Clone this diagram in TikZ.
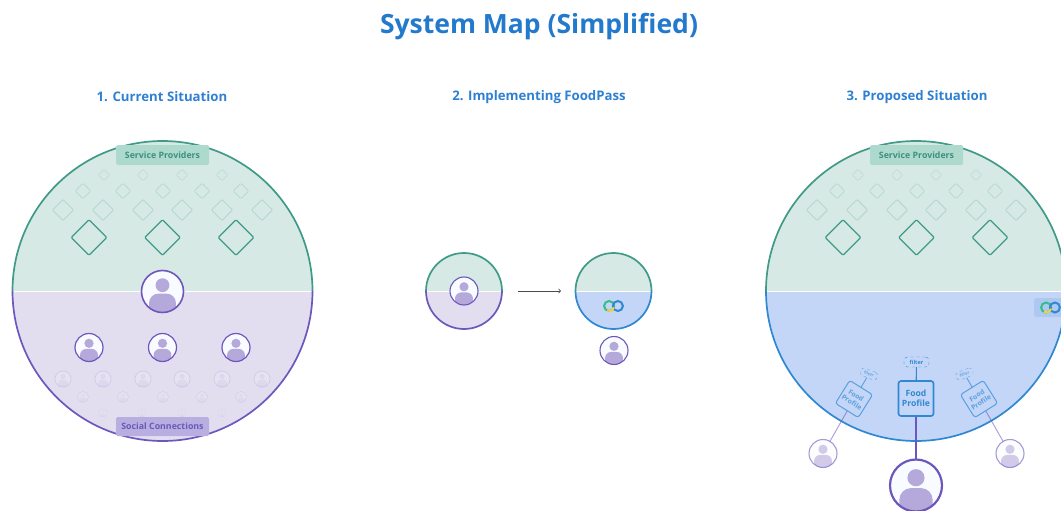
\documentclass[tikz,border=0pt]{standalone}
\usepackage{fontspec}
\setmainfont{Open Sans}
\definecolor{titleblue}{HTML}{2379CC}
\definecolor{headblue}{HTML}{2E80D2}
\definecolor{tealfill}{HTML}{D7E9E5}
\definecolor{tealline}{HTML}{3F9A88}
\definecolor{tealpill}{HTML}{AEDACE}
\definecolor{tealtext}{HTML}{3E8F80}
\definecolor{lilacfill}{HTML}{E2DEF0}
\definecolor{lilacline}{HTML}{6C58BC}
\definecolor{lilacpill}{HTML}{B8AFE0}
\definecolor{lilacbody}{HTML}{B5A9DC}
\definecolor{bluefill}{HTML}{C3D6F7}
\definecolor{blueline}{HTML}{2F88D2}
\definecolor{bluepill}{HTML}{ADC8F1}
\definecolor{iconback}{HTML}{F8FBFF}
\definecolor{ringgreen}{HTML}{35BE86}
\definecolor{ringyellow}{HTML}{F4D33F}
\tikzset{
  head/.style={font=\bfseries\fontsize{13.2}{16}\selectfont,text=headblue},
  person/.style={circle,draw=lilacline,fill=iconback,inner sep=0pt,outer sep=0pt,minimum size=#1*2pt,
    path picture={
      \fill[lilacbody] (path picture bounding box.center) ++(0,-.3*#1) circle (.33*#1);
      \fill[lilacbody,rounded corners=#1*.45pt] (path picture bounding box.center) ++(-.64*#1,1.5*#1) -- ++(0,-1.4*#1) -- ++(1.28*#1,0) -- ++(0,1.4*#1) -- cycle;
    }},
  faded/.style={opacity=#1},
  gem/.style={rectangle,rounded corners=1pt,draw=tealline,rotate=45,inner sep=0pt,minimum size=#1*1pt},
  pill/.style={rectangle,rounded corners=1.5pt,inner sep=0pt,minimum width=93pt,minimum height=20pt,font=\bfseries\fontsize{8.8}{11}\selectfont},
  profile/.style={rectangle,rounded corners=2.5pt,draw=blueline,line width=#1,fill=bluefill,inner sep=0pt,minimum size=35pt,align=center,text=blueline,font=\fontsize{8.6}{10.5}\selectfont\bfseries},
  sieve/.style={rectangle,rounded corners=3.5pt,dashed,draw=blueline,inner sep=0pt,minimum width=25pt,minimum height=10pt,text=blueline,font=\bfseries\fontsize{5.5}{6}\selectfont},
}
\newcommand{\splitdisc}[7]{
  \fill[#4] (#1-#3,#2) arc (180:360:#3) -- cycle;
  \fill[#6] (#1-#3,#2) arc (180:0:#3) -- cycle;
  \draw[white,line width=1pt] (#1-#3,#2) -- (#1+#3,#2);
  \draw[#5,line width=1.7pt] (#1-#3,#2) arc (180:360:#3);
  \draw[#7,line width=1.7pt] (#1-#3,#2) arc (180:0:#3);
}
\newcommand{\gemfield}[1]{
  \foreach \x in {89,162.5,236} \draw (#1+\x,237.5) node[gem=25,line width=1.2pt](big#1x\x) {};
  \foreach \x in {63,103,143,182,222,262} \draw (#1+\x,210) node[gem=15,draw opacity=.22,line width=.9pt](mid#1x\x) {};
  \foreach \x in {83,123,163,202,241} \draw (#1+\x,191) node[gem=11,draw opacity=.2,line width=.8pt](low#1x\x) {};
  \foreach \x in {104,143,182,222} \draw (#1+\x,175) node[gem=8,draw opacity=.16,line width=.7pt](top#1x\x) {};
}
\newcommand{\ringlogo}[3]{
  \draw[ringgreen,line width=2pt] (#1-#3*.88,#2) circle (#3);
  \draw[blueline,line width=2pt] (#1+#3*.88,#2) circle (#3);
  \draw[ringyellow,line width=2pt] (#1-#3*.88,#2) ++(15:#3) arc (15:115:#3);
}
\begin{document}
\begin{tikzpicture}[x=1pt,y=-1pt]
\useasboundingbox (0,0) rectangle (1061,511);
\clip (0,0) rectangle (1061,511);
\draw (539,27) node[font=\bfseries\fontsize{26.5}{30}\selectfont,text=titleblue](title) {System Map (Simplified)};
\draw (162,97) node[head](headone) {1. Current Situation};
\draw (539,97) node[head](headtwo) {2. Implementing FoodPass};
\draw (917,97) node[head](headthree) {3. Proposed Situation};
% current situation
\splitdisc{162.5}{291}{150}{tealfill}{tealline}{lilacfill}{lilacline}
\gemfield{0}
\draw (162.5,155) node[pill,fill=tealpill,text=tealtext](providersone) {Service Providers};
\draw (162.5,426.5) node[pill,minimum height=19pt,fill=lilacpill,text=lilacline](connections) {Social Connections};
\draw (162.5,291.5) node[person=21,line width=1.6pt](userone) {};
\foreach \x in {89,162.5,236} \draw (\x,347.5) node[person=14,line width=1.2pt](friend\x) {};
\foreach \x in {63,103,143,182,222,262} \draw (\x,379) node[person=8,line width=.7pt,faded=.16](frienda\x) {};
\foreach \x in {83,123,163,202,241} \draw (\x,397) node[person=5.5,line width=.5pt,faded=.13](friendb\x) {};
\foreach \x in {103,142,182,222} \draw (\x,413) node[person=4,line width=.4pt,faded=.1](friendc\x) {};
% implementing
\splitdisc{464}{291}{38}{tealfill}{tealline}{lilacfill}{lilacline}
\draw (464,291) node[person=14,line width=1.1pt](usertwo) {};
\splitdisc{613.5}{291}{38}{tealfill}{tealline}{bluefill}{blueline}
\ringlogo{613.5}{306}{5}
\draw (614,350.5) node[person=14,line width=1.1pt](userthree) {};
\coordinate (arrowfrom) at (518,291);
\coordinate (arrowto) at (561,291);
\draw[->,black!70,line width=.8pt] (arrowfrom) -- (arrowto);
% proposed situation
\splitdisc{916}{291}{150}{tealfill}{tealline}{bluefill}{blueline}
\gemfield{754}
\draw (916.5,155) node[pill,fill=tealpill,text=tealtext](providerstwo) {Service Providers};
\draw (1058,307.5) node[rectangle,rounded corners=2.5pt,fill=bluepill,minimum width=48pt,minimum height=19pt,inner sep=0pt](logopill) {};
\ringlogo{1050.5}{307.5}{5}
\draw (916,398.5) node[profile=1.6pt](foodmid) {Food\\Profile};
\draw (916.5,362) node[sieve](filtermid) {filter};
\draw (854,399) node[profile=1pt,rotate=-32,minimum size=27pt,opacity=.7,font=\fontsize{6.8}{8}\selectfont\bfseries](foodleft) {Food\\Profile};
\draw (869,374) node[sieve,rotate=-22,minimum width=18pt,minimum height=8pt,opacity=.6,font=\bfseries\fontsize{4.2}{5}\selectfont](filterleft) {filter};
\draw (979,399) node[profile=1pt,rotate=32,minimum size=27pt,opacity=.7,font=\fontsize{6.8}{8}\selectfont\bfseries](foodright) {Food\\Profile};
\draw (964.5,374) node[sieve,rotate=22,minimum width=18pt,minimum height=8pt,opacity=.6,font=\bfseries\fontsize{4.2}{5}\selectfont](filterright) {filter};
\draw (823,453.5) node[person=14,line width=1.1pt,faded=.6](userleft) {};
\draw (1010,453.5) node[person=14,line width=1.1pt,faded=.6](userright) {};
\draw (916,485.5) node[person=26,line width=2.2pt](usermid) {};
\draw[blueline,line width=1.1pt] (foodmid) -- (filtermid);
\draw[blueline,line width=.9pt,opacity=.7] (foodleft) -- (filterleft);
\draw[blueline,line width=.9pt,opacity=.7] (foodright) -- (filterright);
\draw[lilacline,line width=1.1pt] (foodmid) -- (usermid);
\draw[lilacline,line width=1pt,opacity=.55] (foodleft) -- (userleft);
\draw[lilacline,line width=1pt,opacity=.55] (foodright) -- (userright);
\end{tikzpicture}
\end{document}
